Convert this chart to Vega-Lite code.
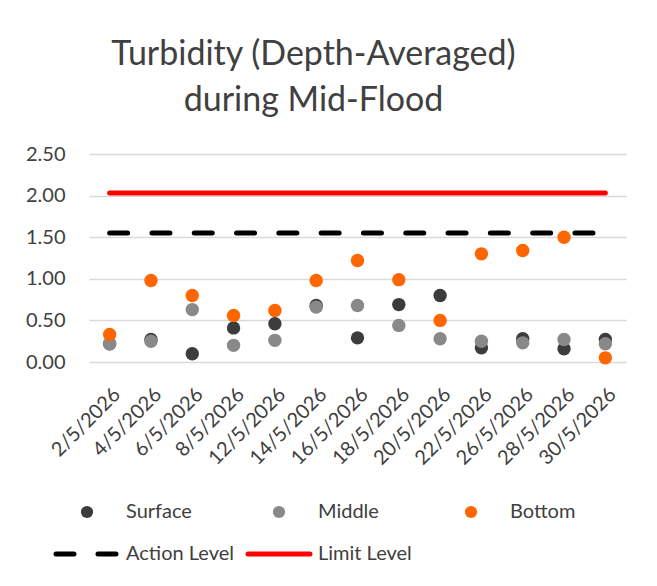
{
  "$schema": "https://vega.github.io/schema/vega-lite/v6.json",
  "autosize": "none",
  "width": 537,
  "height": 208,
  "padding": {"left": 89, "top": 154, "right": 31, "bottom": 224},
  "background": "white",
  "title": {
    "text": ["Turbidity (Depth-Averaged)", "during Mid-Flood"],
    "font": "Lato",
    "fontSize": 34,
    "fontWeight": "normal",
    "color": "#404040",
    "lineHeight": 46,
    "anchor": "middle",
    "frame": "group",
    "dx": -44,
    "offset": -8,
    "baseline": "bottom"
  },
  "datasets": {
    "points": [
      {"date": "2/5/2026", "series": "Surface", "value": 0.22},
      {"date": "4/5/2026", "series": "Surface", "value": 0.27},
      {"date": "6/5/2026", "series": "Surface", "value": 0.10},
      {"date": "8/5/2026", "series": "Surface", "value": 0.41},
      {"date": "12/5/2026", "series": "Surface", "value": 0.46},
      {"date": "14/5/2026", "series": "Surface", "value": 0.68},
      {"date": "16/5/2026", "series": "Surface", "value": 0.29},
      {"date": "18/5/2026", "series": "Surface", "value": 0.69},
      {"date": "20/5/2026", "series": "Surface", "value": 0.80},
      {"date": "22/5/2026", "series": "Surface", "value": 0.17},
      {"date": "26/5/2026", "series": "Surface", "value": 0.28},
      {"date": "28/5/2026", "series": "Surface", "value": 0.16},
      {"date": "30/5/2026", "series": "Surface", "value": 0.27},
      {"date": "2/5/2026", "series": "Middle", "value": 0.22},
      {"date": "4/5/2026", "series": "Middle", "value": 0.25},
      {"date": "6/5/2026", "series": "Middle", "value": 0.63},
      {"date": "8/5/2026", "series": "Middle", "value": 0.20},
      {"date": "12/5/2026", "series": "Middle", "value": 0.26},
      {"date": "14/5/2026", "series": "Middle", "value": 0.66},
      {"date": "16/5/2026", "series": "Middle", "value": 0.68},
      {"date": "18/5/2026", "series": "Middle", "value": 0.44},
      {"date": "20/5/2026", "series": "Middle", "value": 0.28},
      {"date": "22/5/2026", "series": "Middle", "value": 0.25},
      {"date": "26/5/2026", "series": "Middle", "value": 0.23},
      {"date": "28/5/2026", "series": "Middle", "value": 0.27},
      {"date": "30/5/2026", "series": "Middle", "value": 0.22},
      {"date": "2/5/2026", "series": "Bottom", "value": 0.33},
      {"date": "4/5/2026", "series": "Bottom", "value": 0.98},
      {"date": "6/5/2026", "series": "Bottom", "value": 0.80},
      {"date": "8/5/2026", "series": "Bottom", "value": 0.56},
      {"date": "12/5/2026", "series": "Bottom", "value": 0.62},
      {"date": "14/5/2026", "series": "Bottom", "value": 0.98},
      {"date": "16/5/2026", "series": "Bottom", "value": 1.22},
      {"date": "18/5/2026", "series": "Bottom", "value": 0.99},
      {"date": "20/5/2026", "series": "Bottom", "value": 0.50},
      {"date": "22/5/2026", "series": "Bottom", "value": 1.30},
      {"date": "26/5/2026", "series": "Bottom", "value": 1.34},
      {"date": "28/5/2026", "series": "Bottom", "value": 1.50},
      {"date": "30/5/2026", "series": "Bottom", "value": 0.05}
    ],
    "levels": [
      {"date": "2/5/2026", "series": "Action Level", "value": 1.55},
      {"date": "4/5/2026", "series": "Action Level", "value": 1.55},
      {"date": "6/5/2026", "series": "Action Level", "value": 1.55},
      {"date": "8/5/2026", "series": "Action Level", "value": 1.55},
      {"date": "12/5/2026", "series": "Action Level", "value": 1.55},
      {"date": "14/5/2026", "series": "Action Level", "value": 1.55},
      {"date": "16/5/2026", "series": "Action Level", "value": 1.55},
      {"date": "18/5/2026", "series": "Action Level", "value": 1.55},
      {"date": "20/5/2026", "series": "Action Level", "value": 1.55},
      {"date": "22/5/2026", "series": "Action Level", "value": 1.55},
      {"date": "26/5/2026", "series": "Action Level", "value": 1.55},
      {"date": "28/5/2026", "series": "Action Level", "value": 1.55},
      {"date": "30/5/2026", "series": "Action Level", "value": 1.55},
      {"date": "2/5/2026", "series": "Limit Level", "value": 2.03},
      {"date": "4/5/2026", "series": "Limit Level", "value": 2.03},
      {"date": "6/5/2026", "series": "Limit Level", "value": 2.03},
      {"date": "8/5/2026", "series": "Limit Level", "value": 2.03},
      {"date": "12/5/2026", "series": "Limit Level", "value": 2.03},
      {"date": "14/5/2026", "series": "Limit Level", "value": 2.03},
      {"date": "16/5/2026", "series": "Limit Level", "value": 2.03},
      {"date": "18/5/2026", "series": "Limit Level", "value": 2.03},
      {"date": "20/5/2026", "series": "Limit Level", "value": 2.03},
      {"date": "22/5/2026", "series": "Limit Level", "value": 2.03},
      {"date": "26/5/2026", "series": "Limit Level", "value": 2.03},
      {"date": "28/5/2026", "series": "Limit Level", "value": 2.03},
      {"date": "30/5/2026", "series": "Limit Level", "value": 2.03}
    ]
  },
  "encoding": {
    "x": {
      "field": "date",
      "type": "nominal",
      "title": null,
      "scale": {
        "type": "point",
        "padding": 0.5,
        "domain": ["2/5/2026", "4/5/2026", "6/5/2026", "8/5/2026", "12/5/2026", "14/5/2026", "16/5/2026", "18/5/2026", "20/5/2026", "22/5/2026", "26/5/2026", "28/5/2026", "30/5/2026"]
      },
      "axis": {
        "labelAngle": -45,
        "labelFontSize": 20,
        "labelColor": "#404040",
        "labelPadding": 22,
        "ticks": false,
        "tickSize": 0,
        "domain": false,
        "grid": false
      }
    },
    "y": {
      "field": "value",
      "type": "quantitative",
      "title": null,
      "scale": {"domain": [0, 2.5], "nice": false, "zero": true},
      "axis": {
        "values": [0, 0.5, 1, 1.5, 2, 2.5],
        "format": ".2f",
        "labelFontSize": 20,
        "labelColor": "#404040",
        "labelPadding": 24,
        "ticks": false,
        "tickSize": 0,
        "domain": false,
        "grid": true,
        "gridColor": "#d9d9d9",
        "gridWidth": 1.5
      }
    },
    "color": {
      "field": "series",
      "type": "nominal",
      "title": null,
      "scale": {
        "domain": ["Surface", "Middle", "Bottom", "Action Level", "Limit Level"],
        "range": ["#3c3c3c", "#898989", "#ff6600", "#000000", "#ff0000"]
      },
      "legend": {
        "orient": "none",
        "direction": "horizontal",
        "legendX": -12,
        "legendY": 348,
        "columns": 3,
        "gridAlign": "all",
        "columnPadding": 4,
        "rowPadding": 22,
        "padding": 0,
        "symbolSize": 3844,
        "labelFontSize": 20,
        "labelColor": "#404040",
        "labelOffset": 29,
        "labelLimit": 200,
        "encode": {
          "symbols": {
            "update": {
              "shape": {"signal": "datum.value == 'Action Level' || datum.value == 'Limit Level' ? 'stroke' : 'circle'"},
              "size": {"signal": "datum.value == 'Action Level' || datum.value == 'Limit Level' ? 3844 : 150"},
              "strokeWidth": {"signal": "datum.value == 'Action Level' || datum.value == 'Limit Level' ? 5 : 0"},
              "strokeDash": {"signal": "datum.value == 'Action Level' ? [18, 24] : [1, 0]"},
              "strokeCap": {"value": "round"},
              "stroke": {"scale": "color", "field": "value"},
              "fill": {"scale": "color", "field": "value"},
              "opacity": {"value": 1},
              "fillOpacity": {"value": 1},
              "strokeOpacity": {"value": 1}
            }
          }
        }
      }
    }
  },
  "layer": [
    {
      "data": {"name": "levels"},
      "mark": {"type": "line", "strokeWidth": 5, "strokeCap": "round"},
      "encoding": {
        "strokeDash": {
          "condition": {"test": "datum.series === 'Action Level'", "value": [18, 24.3]},
          "value": [1, 0]
        }
      }
    },
    {
      "data": {"name": "points"},
      "mark": {"type": "point", "filled": true, "size": 180, "opacity": 1, "shape": "circle"}
    }
  ],
  "config": {
    "font": "Lato",
    "view": {"stroke": null}
  }
}
